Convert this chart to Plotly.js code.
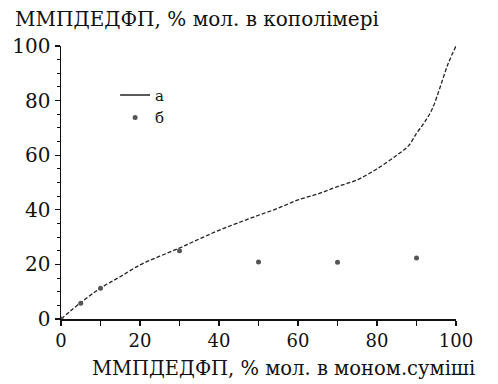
<!DOCTYPE html>
<html>
<head>
<meta charset="utf-8">
<script src="https://cdn.plot.ly/plotly-3.0.1.min.js"></script>
<style>html,body{margin:0;padding:0;background:#fff;}#chart{width:498px;height:384px;}</style>
</head>
<body>
<div id="chart"></div>
<script>
// Curve "a": composition of copolymer vs monomer mixture
const curveX = [0, 5, 10, 15, 20, 25, 30, 35, 40, 45, 50, 55, 60, 65, 70, 75, 80, 85, 88, 90, 92, 94, 96, 98, 100];
const curveY = [0, 6, 11.3, 15.5, 19.8, 23, 26, 29.3, 32.5, 35.3, 38, 40.6, 43.6, 45.8, 48.5, 51, 55, 60, 63.5, 68, 72, 77, 85, 93.5, 100];
// Experimental points "б"
const pointX = [0, 5, 10, 30, 50, 70, 90];
const pointY = [0, 5.8, 11.3, 25, 20.9, 20.8, 22.3];
const legendNames = ['а', 'б'];
const xTicks = [0, 20, 40, 60, 80, 100];
const yTicks = [0, 20, 40, 60, 80, 100];
const yTitle = 'ММПДЕДФП, % мол. в кополімері';
const xTitle = 'ММПДЕДФП, % мол. в моном.суміші';

const serif = 'DejaVu Serif, Liberation Serif, serif';

const traces = [
  {x: curveX, y: curveY, mode: 'lines', line: {color: '#222', width: 1.3, dash: '4px,2px', shape: 'spline'}, showlegend: false, hoverinfo: 'skip'},
  {x: [null], y: [null], mode: 'lines', name: legendNames[0], line: {color: '#222', width: 1.3}},
  {x: pointX, y: pointY, mode: 'markers', name: legendNames[1], marker: {color: '#555', size: 5, symbol: 'circle'}}
];

const layout = {
  width: 498, height: 384,
  margin: {l: 61, r: 42, t: 46, b: 65},
  paper_bgcolor: '#fff', plot_bgcolor: '#fff',
  font: {family: serif, color: '#111', size: 15},
  showlegend: true,
  legend: {x: 0.137, y: 0.88, xanchor: 'left', yanchor: 'top', bgcolor: 'rgba(0,0,0,0)', font: {family: serif, size: 15, color: '#111'}, itemwidth: 30, tracegroupgap: 0},
  xaxis: {
    range: [0, 100], tickvals: xTicks, ticktext: xTicks.map(String),
    showgrid: false, zeroline: false, showline: true, linecolor: '#111', linewidth: 1.5,
    ticks: 'outside', ticklen: 5, tickwidth: 1.2, tickcolor: '#111',
    minor: {dtick: 10, ticks: 'outside', ticklen: 5, tickwidth: 1.2, tickcolor: '#111'},
    tickfont: {family: serif, size: 18, color: '#111'},
    automargin: false
  },
  yaxis: {
    range: [0, 100], tickvals: yTicks, ticktext: yTicks.map(String),
    showgrid: false, zeroline: false, showline: true, linecolor: '#111', linewidth: 1.5,
    ticks: 'outside', ticklen: 5, tickwidth: 1.2, tickcolor: '#111',
    minor: {dtick: 5, ticks: 'outside', ticklen: 3, tickwidth: 1, tickcolor: '#111'},
    tickfont: {family: serif, size: 20, color: '#111'},
    automargin: false
  },
  annotations: [
    {text: yTitle, xref: 'paper', yref: 'paper', x: -0.1215, y: 1.099, xanchor: 'left', yanchor: 'middle', showarrow: false,
     font: {family: serif, size: 20, color: '#111'}},
    {text: xTitle, xref: 'paper', yref: 'paper', x: 0.073, y: -0.183, xanchor: 'left', yanchor: 'middle', showarrow: false,
     font: {family: serif, size: 19.5, color: '#111'}}
  ]
};

Plotly.newPlot('chart', traces, layout, {displayModeBar: false, staticPlot: true});
</script>
</body>
</html>
